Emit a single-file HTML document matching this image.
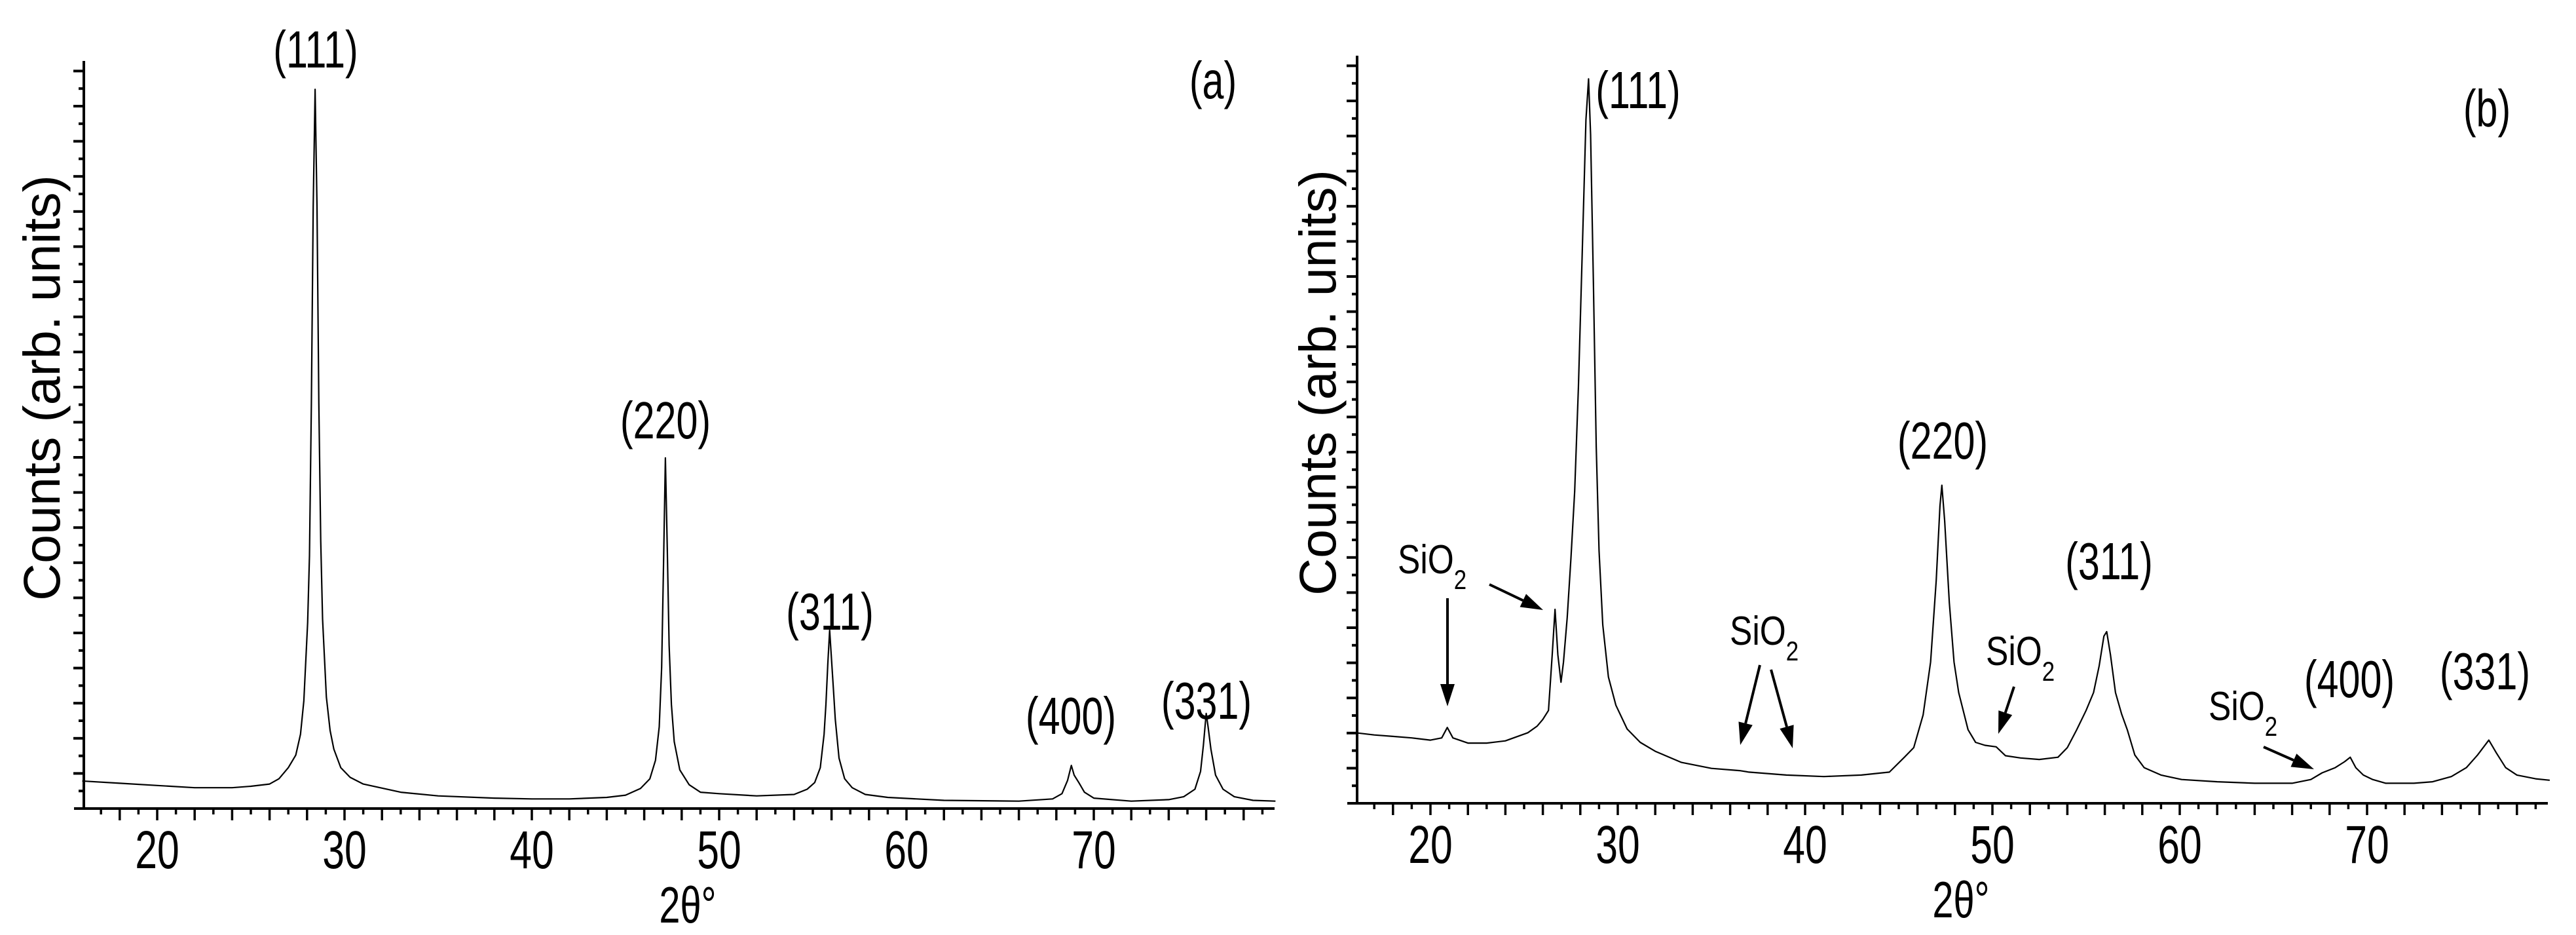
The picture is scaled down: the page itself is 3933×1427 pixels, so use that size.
<!DOCTYPE html>
<html><head><meta charset="utf-8"><style>
html,body{margin:0;padding:0;background:#fff;}
svg{display:block;}
.n{font-family:"Liberation Sans Narrow","Liberation Sans",sans-serif;fill:#000;}
.w{font-family:"Liberation Sans",sans-serif;fill:#000;}
</style></head><body>
<svg id="chart" width="3933" height="1427" viewBox="0 0 3933 1427" xmlns="http://www.w3.org/2000/svg">
<g id="pa"></g>
<g id="pb" transform="translate(1944,-8)"></g>
</svg>
<script>
const aTheta=[16,18,20,22,24,25,26,26.5,27.0,27.4,27.65,27.83,28.03,28.13,28.23,28.33,28.43,28.53,28.63,28.73,28.83,29.03,29.23,29.43,29.8,30.3,31,33,35,38,40,42,44,45.0,45.8,46.3,46.6,46.8,46.93,47.03,47.13,47.23,47.33,47.45,47.6,47.9,48.4,49,50,52,54,54.7,55.1,55.4,55.6,55.7,55.8,55.9,56.0,56.1,56.2,56.4,56.7,57.1,57.8,59,62,66,67.8,68.3,68.6,68.8,68.95,69.2,69.5,70,72,74,74.8,75.4,75.7,75.85,76.0,76.1,76.25,76.5,76.9,77.5,78.5,79.7];
const aCounts=[37,34,31,28,28,30,33,40,55,72,100,145,250,340,545,810,968,810,545,360,255,150,105,80,55,42,33,22,17,14,13,13,15,18,27,40,65,110,190,330,472,350,220,140,90,52,32,22,20,17,19,26,35,55,100,140,195,240,200,160,120,68,40,28,19,15,11,10,13,20,38,58,45,35,22,14,10,12,16,26,50,85,128,110,80,45,26,16,11,10];
const bTheta=[16,17,18,19,20,20.6,20.9,21.2,22,23,24,25.2,25.7,26.0,26.3,26.5,26.65,26.8,26.97,27.1,27.3,27.5,27.7,27.9,28.1,28.3,28.44,28.55,28.7,28.85,29.0,29.2,29.5,29.9,30.5,31.2,32,33.4,35,36.5,37,39,41,43,44.5,45.3,45.8,46.3,46.7,47.0,47.2,47.3,47.45,47.7,47.95,48.2,48.7,49.1,49.6,50.2,50.7,51.5,52.5,53.5,54.0,54.5,55.0,55.4,55.7,55.95,56.1,56.3,56.57,56.9,57.2,57.6,58.1,59,60.1,62,64,66,67,67.6,68.3,68.8,69.1,69.4,69.8,70.3,71,72.5,73.5,74.5,75.3,75.9,76.5,76.9,77.4,78,79,79.75];
const bCounts=[95,92,90,88,85,88,102,88,81,81,84,95,104,113,125,200,261,200,163,190,250,330,420,560,740,920,975,900,700,480,340,240,170,132,100,82,70,55,47,44,42,38,36,38,42,62,75,119,190,300,400,428,380,270,190,149,99,82,78,76,64,61,59,62,75,99,125,149,185,225,231,200,149,120,99,65,48,38,32,29,27,27,32,41,48,56,62,48,38,32,27,27,29,36,48,65,85,68,48,38,33,31];
const xTickLabels=[20,30,40,50,60,70];
const aPeakLabels=["(111)","(220)","(311)","(400)","(331)"];
const bPeakLabels=["(111)","(220)","(311)","(400)","(331)"];

const NS="http://www.w3.org/2000/svg";
const X0=240, PXU=28.6, Y0=1234, PXV=1.134;
const NARROW=0.74;
function sx(t){return X0+(t-20)*PXU;}
function sy(v){return Y0-v*PXV;}
function mk(parent,tag,attrs){const e=document.createElementNS(NS,tag);for(const k in attrs)e.setAttribute(k,attrs[k]);parent.appendChild(e);return e;}
function txt(parent,str,x,y,size,cls,sc){
  const t=mk(parent,'text',{x:0,y:0,'font-size':size,'class':cls,'text-anchor':'middle',transform:`translate(${x},${y}) scale(${sc},1)`});
  t.textContent=str;return t;
}
function sio2(parent,x,y,name){
  const s0=0.83;
  const t=mk(parent,'text',{x:0,y:0,'font-size':62,'class':'n',transform:`translate(${x},${y}) scale(${s0},1)`});
  
  
  t.textContent='SiO';
  const s=document.createElementNS(NS,'tspan');s.setAttribute('font-size',42);s.setAttribute('dy',24);s.textContent='2';t.appendChild(s);
}
function arrow(parent,x1,y1,x2,y2,name){
  const g=mk(parent,'g',{});
  
  
  const dx=x2-x1,dy=y2-y1,L=Math.hypot(dx,dy),ux=dx/L,uy=dy/L,h=34,w=11;
  const bx=x2-ux*h,by=y2-uy*h;
  mk(g,'line',{x1:x1,y1:y1,x2:bx,y2:by,stroke:'#000','stroke-width':4});
  mk(g,'polygon',{points:`${x2},${y2} ${bx-uy*w},${by+ux*w} ${bx+uy*w},${by-ux*w}`,fill:'#000'});
}
function axes(g){
  const ax=mk(g,'g',{});
  
  
  mk(ax,'line',{x1:128,y1:93,x2:128,y2:Y0+2,stroke:'#000','stroke-width':4});
  mk(ax,'line',{x1:113,y1:Y0,x2:1946,y2:Y0,stroke:'#000','stroke-width':4});
  for(let k=1;k<=42;k++){const y=Y0-k*26.8;const L=(k%2===0)?16:8;mk(ax,'line',{x1:128-L,y1:y,x2:128,y2:y,stroke:'#000','stroke-width':4});}
  for(let t=17;t<=79;t++){const x=sx(t);const L=(t%2===0)?18:9;mk(ax,'line',{x1:x,y1:Y0,x2:x,y2:Y0+L,stroke:'#000','stroke-width':3.5});}
  xTickLabels.forEach(v=>{const t=txt(ax,String(v),sx(v),1325,82,'n',NARROW);
    
    });
  const xt=txt(ax,'2θ°',1050,1408,78,'n',NARROW);
  
  
}
function series(g,th,ct,name){
  let d='';th.forEach((t,i)=>{d+=(i?'L':'M')+sx(t).toFixed(1)+','+sy(ct[i]).toFixed(1);});
  const p=mk(g,'path',{d:d,fill:'none',stroke:'#000','stroke-width':2.2,'stroke-linejoin':'round'});
  
  
}
function peakLabel(g,s,x,y,name){const t=txt(g,s,x,y+28,80,'n',NARROW);
  
  }

const pa=document.getElementById('pa');
axes(pa);
series(pa,aTheta,aCounts,'xrd-curve-a');
const yta=mk(pa,'text',{x:0,y:0,'font-size':79,'class':'w','text-anchor':'middle',transform:'translate(91,592) rotate(-90)'});


yta.textContent='Counts (arb. units)';
const aLabelPos=[[482,75],[1016,641],[1267,933],[1635,1092],[1842,1069]];
aPeakLabels.forEach((s,i)=>peakLabel(pa,s,aLabelPos[i][0],aLabelPos[i][1],'peak-label-a-'+i));
peakLabel(pa,'(a)',1852,122,'panel-label-a');

const pb=document.getElementById('pb');
axes(pb);
series(pb,bTheta,bCounts,'xrd-curve-b');
const ytb=mk(pb,'text',{x:0,y:0,'font-size':79,'class':'w','text-anchor':'middle',transform:'translate(95,592) rotate(-90)'});


ytb.textContent='Counts (arb. units)';
const bLabelPos=[[557,145],[1022,680],[1276,864],[1643,1044],[1850,1032]];
bPeakLabels.forEach((s,i)=>peakLabel(pb,s,bLabelPos[i][0],bLabelPos[i][1],'peak-label-b-'+i));
peakLabel(pb,'(b)',1853,173,'panel-label-b');
sio2(pb,190,883,'sio2-label-1');
arrow(pb,266,921,266,1086,'sio2-arrow-1');
arrow(pb,330,900,412,939,'sio2-arrow-2');
sio2(pb,697,992,'sio2-label-2');
arrow(pb,743,1023,713,1145,'sio2-arrow-3');
arrow(pb,760,1030,793,1150,'sio2-arrow-4');
sio2(pb,1088,1023,'sio2-label-3');
arrow(pb,1131,1056,1107,1128,'sio2-arrow-5');
sio2(pb,1428,1107,'sio2-label-4');
arrow(pb,1512,1148,1589,1182,'sio2-arrow-6');
</script>
</body></html>
